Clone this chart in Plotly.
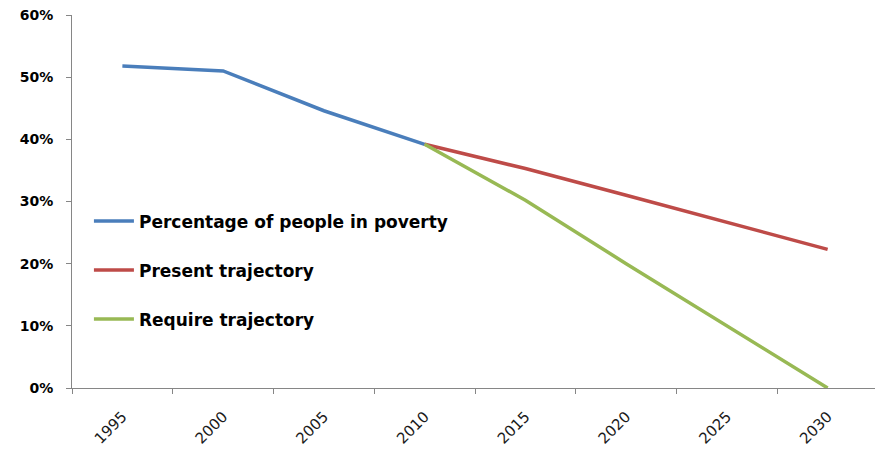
import plotly.graph_objects as go

years = ["1995", "2000", "2005", "2010", "2015", "2020", "2025", "2030"]
poverty = [0.518, 0.510, 0.446, 0.392, None, None, None, None]
present = [None, None, None, 0.392, 0.353, 0.310, 0.267, 0.223]
required = [None, None, None, 0.392, 0.302, 0.200, 0.100, 0.0]

names = ["Percentage of people in poverty", "Present trajectory", "Require trajectory"]
colors = ["#4A7EBB", "#BE4B48", "#98B954"]
series = [poverty, present, required]
yref = ["y", "y", "y2"]

fig = go.Figure()
for i, (nm, col, vals, ya) in enumerate(zip(names, colors, series, yref)):
    fig.add_trace(go.Scatter(
        x=years, y=vals, name=nm, mode="lines", yaxis=ya,
        line=dict(color=col, width=3.5),
        legendgroup=f"g{i}",
    ))

yticks = [0, 0.1, 0.2, 0.3, 0.4, 0.5, 0.6]

# page body has an 8px default margin, so the figure is sized/offset to compensate
fig.update_layout(
    width=875, height=443,
    margin=dict(l=64, r=5, t=7, b=63),
    paper_bgcolor="white", plot_bgcolor="white",
    showlegend=True,
    legend=dict(
        x=0.021, y=0.495, xanchor="left", yanchor="top",
        traceorder="grouped", tracegroupgap=24,
        font=dict(family="DejaVu Sans", size=17, color="#000000", weight="bold"),
        bgcolor="rgba(0,0,0,0)", itemwidth=40,
    ),
    xaxis=dict(
        type="category", range=[-0.5, 7.5], automargin=False,
        showgrid=False, showline=True, linecolor="#868686", linewidth=1,
        ticks="outside", tickson="boundaries", ticklen=5, tickcolor="#868686",
        tickangle=-45, ticklabelstandoff=13, ticklabeloverflow="allow",
        tickfont=dict(family="DejaVu Sans", size=15, color="#1a1a1a"),
    ),
    # tick labels, held away from the axis line by an invisible long tick
    yaxis=dict(
        range=[0, 0.6], tickvals=yticks, tickformat=".0%",
        anchor="x", side="left",
        showgrid=False, zeroline=False, showline=False,
        ticks="outside", ticklen=15, tickcolor="rgba(0,0,0,0)",
        automargin=False, ticklabeloverflow="allow",
        tickfont=dict(family="DejaVu Sans", size=14, color="#000000", weight="bold"),
    ),
    # visible axis line and short tick marks
    yaxis2=dict(
        overlaying="y", matches="y", anchor="x", side="left",
        tickvals=yticks, showticklabels=False,
        showgrid=False, zeroline=False, automargin=False,
        showline=True, linecolor="#868686", linewidth=1,
        ticks="outside", ticklen=5, tickcolor="#868686",
    ),
)

fig.write_html("out.html")
